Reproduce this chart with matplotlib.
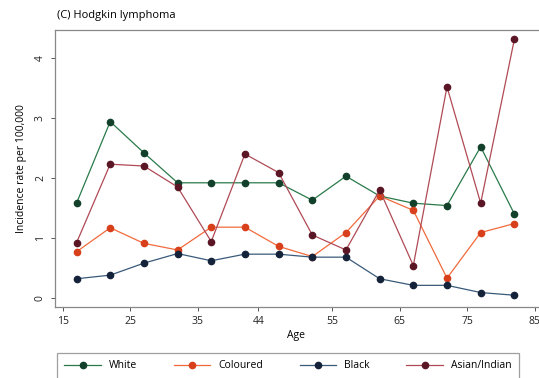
import matplotlib.pyplot as plt

plt.rcParams['font.family'] = ['Open Sans', 'DejaVu Sans']

# age group midpoints
ages = [17, 22, 27, 32, 37, 42, 47, 52, 57, 62, 67, 72, 77, 82]

white = [1.58, 2.94, 2.42, 1.92, 1.92, 1.92, 1.92, 1.63, 2.03, 1.70, 1.58, 1.54, 2.52, 1.40]
coloured = [0.77, 1.17, 0.91, 0.80, 1.18, 1.18, 0.86, 0.69, 1.09, 1.70, 1.46, 0.33, 1.09, 1.24]
black = [0.32, 0.38, 0.58, 0.74, 0.62, 0.73, 0.73, 0.68, 0.68, 0.32, 0.21, 0.21, 0.09, 0.045]
asian = [0.92, 2.23, 2.20, 1.85, 0.94, 2.40, 2.09, 1.05, 0.80, 1.80, 0.54, 3.52, 1.58, 4.31]

x_ticks = [15, 25, 35, 44, 55, 65, 75, 85]
y_ticks = [0, 1, 2, 3, 4]

series = [
    ('White', white, '#2a7a4a', '#12402a'),
    ('Coloured', coloured, '#f26a3c', '#d8401c'),
    ('Black', black, '#3a5a7a', '#14233a'),
    ('Asian/Indian', asian, '#b04a55', '#5a1624'),
]

fig = plt.figure(figsize=(5.39, 3.78), dpi=100)
ax = fig.add_axes([0.102, 0.188, 0.896, 0.733])

for name, vals, lc, mc in series:
    ax.plot(ages, vals, '-', color=lc, linewidth=0.9,
            marker='o', markersize=4.5, markerfacecolor=mc,
            markeredgecolor=mc, label=name)

ax.set_xlim(13.8, 85.5)
ax.set_ylim(-0.15, 4.47)
ax.set_xticks(x_ticks)
ax.set_xticklabels([str(t) for t in x_ticks])
ax.set_yticks(y_ticks)
ax.set_yticklabels([str(t) for t in y_ticks], rotation=90, va='center')
ax.tick_params(axis='both', labelsize=7.5, length=3, width=0.7,
               colors='#555555', labelcolor='#222222')

for s in ['top', 'left', 'bottom']:
    ax.spines[s].set_color('#888888')
    ax.spines[s].set_linewidth(0.9)
ax.spines['right'].set_visible(False)

ax.set_xlabel('Age', fontsize=7.5, labelpad=2)
ax.set_ylabel('Incidence rate per 100,000', fontsize=7.5, labelpad=6)

fig.text(0.106, 0.945, '(C) Hodgkin lymphoma', fontsize=8, ha='left', va='bottom')

# legend box runs off the bottom edge like the reference
leg = fig.legend(loc='upper left', bbox_to_anchor=(0.106, 0.066, 0.857, 0.0),
                 mode='expand', ncol=4, fontsize=7.5, frameon=True,
                 fancybox=False, edgecolor='#888888', handlelength=3.5,
                 borderpad=0.7, borderaxespad=0)
leg.get_frame().set_linewidth(0.9)

plt.savefig('out.png', dpi=100)
